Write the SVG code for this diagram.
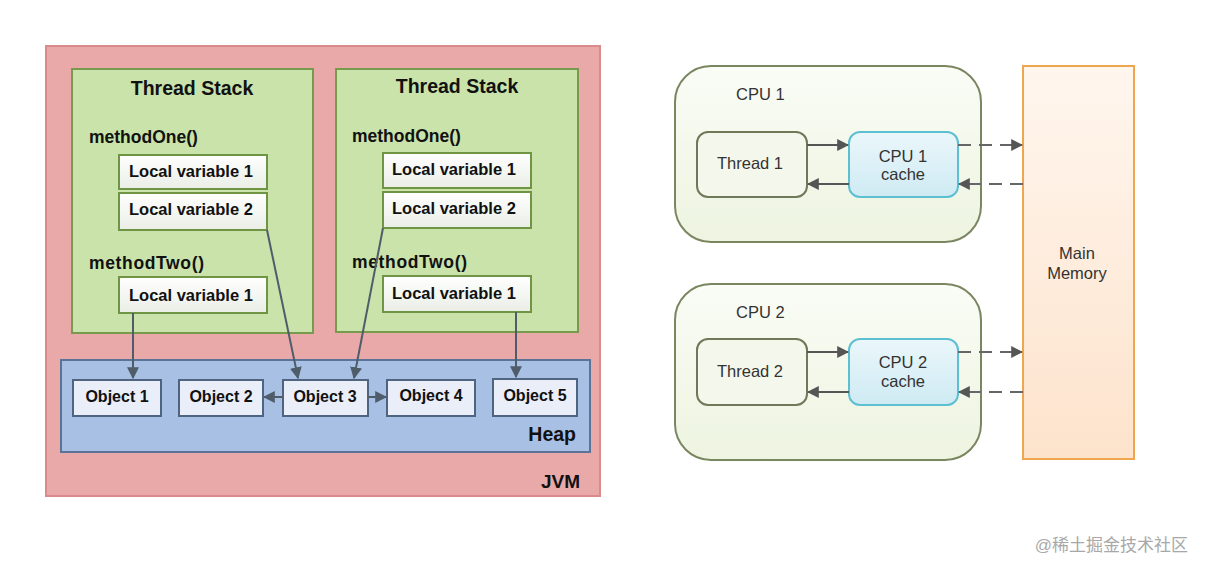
<svg xmlns="http://www.w3.org/2000/svg" width="1206" height="571" viewBox="0 0 1206 571">
<style>
.b{font-family:"Liberation Sans",Arial,sans-serif;font-weight:bold;fill:#111}
.r{font-family:"Liberation Sans",Arial,sans-serif;fill:#333;font-size:16.5px}
.lv{fill:url(#gLV);stroke:#6f9444;stroke-width:2}
.ob{fill:#e9eef8;stroke:#4e6480;stroke-width:2}
.ts{fill:#c9e3aa;stroke:#779a4c;stroke-width:2}
.ar{stroke:#4f5d6b;stroke-width:2;fill:none;marker-end:url(#ah)}
.ar2{stroke:#555;stroke-width:2;fill:none;marker-end:url(#ah2)}
.da{stroke:#666;stroke-width:2;fill:none;stroke-dasharray:13,8;marker-end:url(#ah2)}
.cpu{fill:url(#gCPU);stroke:#7a8660;stroke-width:2}
.th{fill:#f4f8ec;stroke:#6f7858;stroke-width:2}
.ca{fill:url(#gCA);stroke:#5cc0d2;stroke-width:2}
</style>
<defs>
<linearGradient id="gLV" x1="0" y1="0" x2="0" y2="1"><stop offset="0" stop-color="#ffffff"/><stop offset="1" stop-color="#eaeee6"/></linearGradient>
<linearGradient id="gCPU" x1="0" y1="0" x2="0" y2="1"><stop offset="0" stop-color="#fafcf6"/><stop offset="1" stop-color="#edf4e0"/></linearGradient>
<linearGradient id="gCA" x1="0" y1="0" x2="0" y2="1"><stop offset="0" stop-color="#eaf7fb"/><stop offset="1" stop-color="#cfeaf3"/></linearGradient>
<linearGradient id="gMM" x1="0" y1="0" x2="0" y2="1"><stop offset="0" stop-color="#fff6ee"/><stop offset="1" stop-color="#fde3cc"/></linearGradient>
<marker id="ah" viewBox="0 0 10 10" refX="9" refY="5" markerWidth="6" markerHeight="6" orient="auto" markerUnits="strokeWidth"><path d="M0,0 L10,5 L0,10 z" fill="#4f5d6b"/></marker>
<marker id="ah2" viewBox="0 0 10 10" refX="9" refY="5" markerWidth="6" markerHeight="6" orient="auto" markerUnits="strokeWidth"><path d="M0,0 L10,5 L0,10 z" fill="#555"/></marker>
</defs>
<rect width="1206" height="571" fill="#ffffff"/>

<g id="jvm">
<rect x="46" y="46" width="554" height="450" fill="#eaa9a9" stroke="#d98a8a" stroke-width="2"/>
<text class="b" x="580" y="488" font-size="19" text-anchor="end">JVM</text>
</g>

<g id="threadstack1">
<rect class="ts" x="72" y="69" width="241" height="264"/>
<text class="b" x="192" y="95" font-size="19.5" text-anchor="middle">Thread Stack</text>
<text class="b" x="89" y="143" font-size="17.5">methodOne()</text>
<text class="b" x="89" y="269" font-size="17.5" textLength="115">methodTwo()</text>
</g>
<g id="ts1-lv1"><rect class="lv" x="119" y="155" width="148" height="34"/><text class="b" x="129" y="177" font-size="16.5">Local variable 1</text></g>
<g id="ts1-lv2"><rect class="lv" x="119" y="193" width="148" height="37"/><text class="b" x="129" y="215" font-size="16.5">Local variable 2</text></g>
<g id="ts1-lv3"><rect class="lv" x="119" y="277" width="148" height="36"/><text class="b" x="129" y="301" font-size="16.5">Local variable 1</text></g>

<g id="threadstack2">
<rect class="ts" x="336" y="69" width="242" height="263"/>
<text class="b" x="457" y="93" font-size="19.5" text-anchor="middle">Thread Stack</text>
<text class="b" x="352" y="142" font-size="17.5">methodOne()</text>
<text class="b" x="352" y="268" font-size="17.5" textLength="115">methodTwo()</text>
</g>
<g id="ts2-lv1"><rect class="lv" x="383" y="153" width="148" height="35"/><text class="b" x="392" y="175" font-size="16.5">Local variable 1</text></g>
<g id="ts2-lv2"><rect class="lv" x="383" y="192" width="148" height="36"/><text class="b" x="392" y="214" font-size="16.5">Local variable 2</text></g>
<g id="ts2-lv3"><rect class="lv" x="383" y="276" width="148" height="36"/><text class="b" x="392" y="299" font-size="16.5">Local variable 1</text></g>

<g id="heap">
<rect x="61" y="360" width="529" height="92" fill="#a8c0e3" stroke="#5a7397" stroke-width="2"/>
<text class="b" x="576" y="441" font-size="19.5" text-anchor="end">Heap</text>
</g>
<g id="obj1"><rect class="ob" x="73" y="380" width="88" height="36"/><text class="b" x="117" y="402" font-size="16" text-anchor="middle">Object 1</text></g>
<g id="obj2"><rect class="ob" x="179" y="380" width="84" height="36"/><text class="b" x="221" y="402" font-size="16" text-anchor="middle">Object 2</text></g>
<g id="obj3"><rect class="ob" x="283" y="380" width="85" height="36"/><text class="b" x="325" y="402" font-size="16" text-anchor="middle">Object 3</text></g>
<g id="obj4"><rect class="ob" x="387" y="380" width="88" height="36"/><text class="b" x="431" y="401" font-size="16" text-anchor="middle">Object 4</text></g>
<g id="obj5"><rect class="ob" x="493" y="379" width="84" height="37"/><text class="b" x="535" y="401" font-size="16" text-anchor="middle">Object 5</text></g>

<g id="cpu1">
<rect class="cpu" x="675" y="66" width="306" height="176" rx="36"/>
<text class="r" x="736" y="100">CPU 1</text>
</g>
<g id="thread1"><rect class="th" x="697" y="132" width="110" height="65" rx="11"/><text class="r" x="750" y="169" text-anchor="middle">Thread 1</text></g>
<g id="cache1"><rect class="ca" x="849" y="132" width="109" height="65" rx="11"/><text class="r" x="903" y="162" text-anchor="middle">CPU 1</text><text class="r" x="903" y="180" text-anchor="middle">cache</text></g>

<g id="cpu2">
<rect class="cpu" x="675" y="284" width="306" height="176" rx="36"/>
<text class="r" x="736" y="318">CPU 2</text>
</g>
<g id="thread2"><rect class="th" x="697" y="339" width="110" height="66" rx="11"/><text class="r" x="750" y="377" text-anchor="middle">Thread 2</text></g>
<g id="cache2"><rect class="ca" x="849" y="339" width="109" height="66" rx="11"/><text class="r" x="903" y="368" text-anchor="middle">CPU 2</text><text class="r" x="903" y="387" text-anchor="middle">cache</text></g>

<g id="mainmemory">
<rect x="1023" y="66" width="111" height="393" fill="url(#gMM)" stroke="#f0a64e" stroke-width="2"/>
<text class="r" x="1077" y="259" text-anchor="middle">Main</text>
<text class="r" x="1077" y="279" text-anchor="middle">Memory</text>
</g>

<g id="connectors">
<path class="ar" d="M133,313 L133,378"/>
<path class="ar" d="M267,230 L298,378"/>
<path class="ar" d="M383,228 L354,378"/>
<path class="ar" d="M516,312 L516,377"/>
<path class="ar" d="M283,397 L264,397"/>
<path class="ar" d="M368,397 L386,397"/>
<path class="ar2" d="M807,145 L848,145"/>
<path class="ar2" d="M849,184 L808,184"/>
<path class="da" d="M958,145 L1022,145"/>
<path class="da" d="M1023,184 L959,184"/>
<path class="ar2" d="M807,352 L848,352"/>
<path class="ar2" d="M849,392 L808,392"/>
<path class="da" d="M958,352 L1022,352"/>
<path class="da" d="M1023,392 L959,392"/>
</g>

<text x="1188" y="551" font-family="'Liberation Sans','Noto Sans CJK SC',sans-serif" font-size="17" fill="#a8a8a8" text-anchor="end">@稀土掘金技术社区</text>
</svg>
